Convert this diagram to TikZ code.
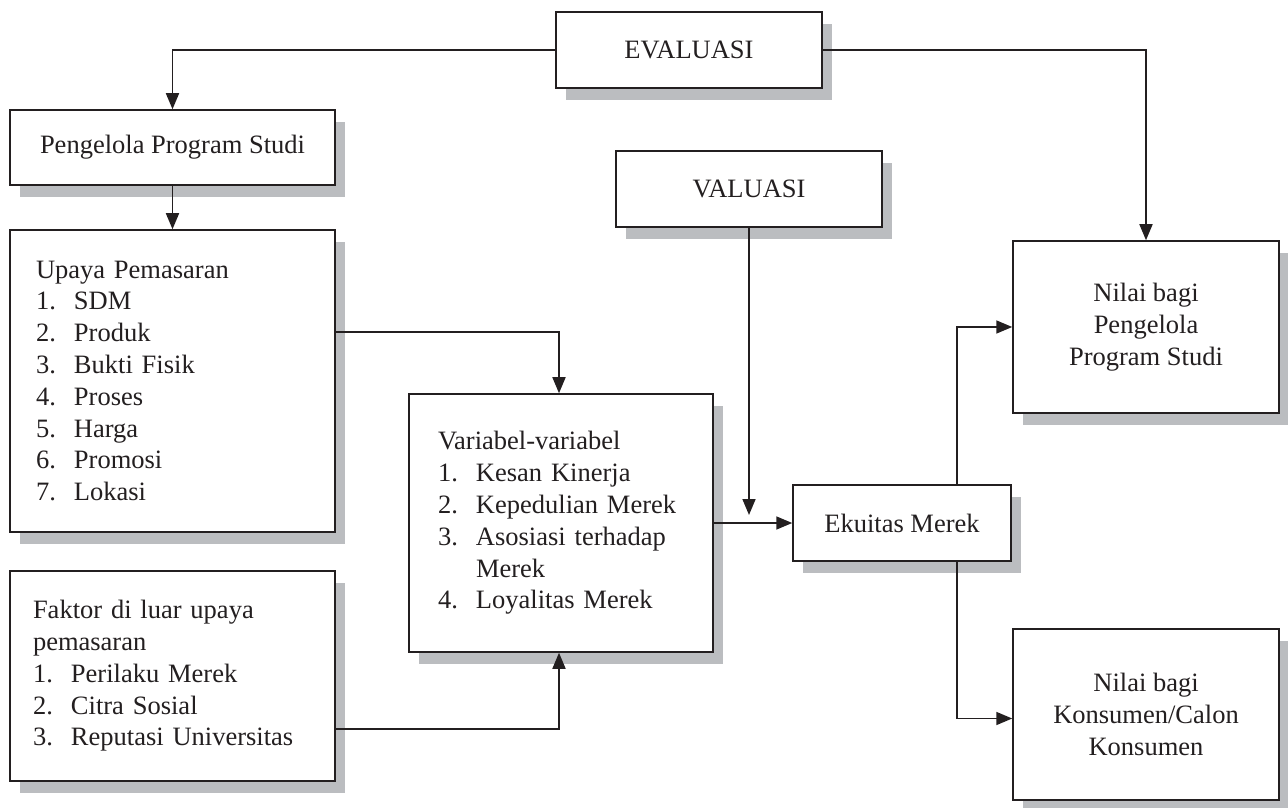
\documentclass[tikz,border=0pt]{standalone}
\usepackage{fontspec}
\setmainfont{Liberation Serif}
\usepackage{tikz}
\usetikzlibrary{arrows.meta, shapes, shadows}
\usepackage{xcolor}
\definecolor{shadowgray}{RGB}{187,189,192}
\definecolor{inkblack}{RGB}{35,31,32}
\tikzset{flowbox/.style={rectangle, draw=inkblack, fill=white, text=inkblack, line width=1.5pt, inner sep=0pt,
drop shadow={shadow xshift=10pt, shadow yshift=-12pt, fill=shadowgray, opacity=1},
font=\fontsize{26.5pt}{31.8pt}\selectfont},
centerbox/.style={flowbox, align=center},
listbox/.style={flowbox, align=left},
flowarrow/.style={draw=inkblack, line width=1.7pt, -{Triangle[length=16pt, width=13pt]}}}
\newcommand{\numitem}[2]{\makebox[38pt][l]{#1.}#2}

\begin{document}
\begin{tikzpicture}[
        line join=miter,
        flowarrow/.style={draw=inkblack, line width=1.7pt, -{Triangle[length=16pt, width=13pt]}}
    ]
        \useasboundingbox (0pt, 0pt) rectangle (1288pt, 807pt);
        % Boxes
        \node[centerbox, minimum width=266pt, minimum height=76pt] (evaluasi) at (689pt, 757pt) {EVALUASI};
        \node[centerbox, minimum width=325pt, minimum height=75pt] (pengelola) at (172.5pt, 659.5pt) {Pengelola Program Studi};
        \node[listbox, minimum width=325pt, minimum height=302pt, text width=273pt] (upaya) at (172.5pt, 426pt) {
            Upaya Pemasaran\\
            \numitem{1}{SDM}\\
            \numitem{2}{Produk}\\
            \numitem{3}{Bukti Fisik}\\
            \numitem{4}{Proses}\\
            \numitem{5}{Harga}\\
            \numitem{6}{Promosi}\\
            \numitem{7}{Lokasi}};
        \node[listbox, minimum width=325pt, minimum height=210pt, text width=279pt] (faktor) at (172.5pt, 131pt) {
            Faktor di luar upaya\\
            pemasaran\\
            \numitem{1}{Perilaku Merek}\\
            \numitem{2}{Citra Sosial}\\
            \numitem{3}{Reputasi Universitas}};
        \node[listbox, minimum width=304pt, minimum height=258pt, text width=246pt] (variabel) at (561pt, 284pt) {
            Variabel-variabel\\
            \numitem{1}{Kesan Kinerja}\\
            \numitem{2}{Kepedulian Merek}\\
            \numitem{3}{Asosiasi terhadap}\\
            \hspace*{38pt}Merek\\
            \numitem{4}{Loyalitas Merek}};
        \node[centerbox, minimum width=266pt, minimum height=76pt] (valuasi) at (749pt, 618pt) {VALUASI};
        \node[centerbox, minimum width=218pt, minimum height=76pt] (ekuitas) at (902pt, 284pt) {Ekuitas Merek};
        \node[centerbox, minimum width=266pt, minimum height=172pt] (nilaipengelola) at (1146pt, 480pt) {Nilai bagi\\ Pengelola\\ Program Studi};
        \node[centerbox, minimum width=266pt, minimum height=171pt] (nilaikonsumen) at (1146pt, 92.5pt) {Nilai bagi\\ Konsumen/Calon\\ Konsumen};
        % Arrows
        \draw[flowarrow] (evaluasi.west) -| (pengelola.north);
        \draw[flowarrow] (evaluasi.east) -| (nilaipengelola.north);
        \draw[flowarrow] (pengelola.south) -- (upaya.north);
        \draw[flowarrow] ([yshift=49pt]upaya.east) -| ([xshift=-2pt]variabel.north);
        \draw[flowarrow] ([yshift=-53pt]faktor.east) -| ([xshift=-2pt]variabel.south);
        \draw[flowarrow] (variabel.east) -- (ekuitas.west);
        \path (valuasi.south |- variabel.east) ++(0pt, 8pt) coordinate (valuasitip);
        \draw[flowarrow] (valuasi.south) -- (valuasitip);
        \draw[flowarrow] ([xshift=55pt]ekuitas.north) |- (nilaipengelola.west);
        \draw[flowarrow] ([xshift=55pt]ekuitas.south) |- ([yshift=-4pt]nilaikonsumen.west);
    \end{tikzpicture}
\end{document}
